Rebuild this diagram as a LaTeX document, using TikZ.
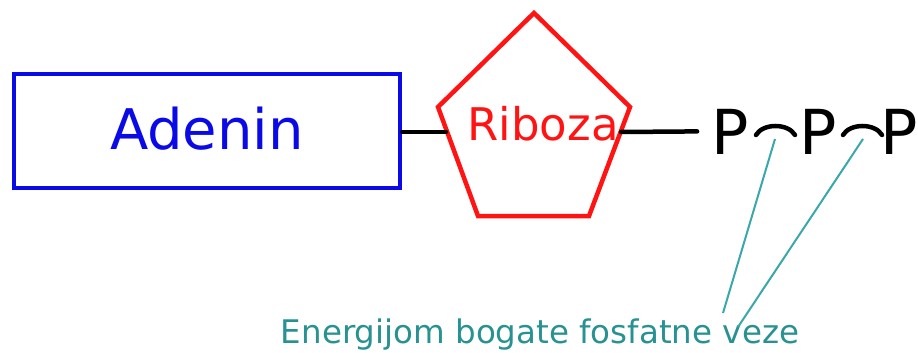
\documentclass[tikz,border=0pt]{standalone}
\usepackage{fontspec}
\setmainfont{DejaVu Sans}
\usepackage{tikz}
\usetikzlibrary{positioning, calc}

\definecolor{baseblue}{RGB}{10,10,230}
\definecolor{sugarred}{RGB}{255,20,20}
\definecolor{bondteal}{RGB}{58,168,168}
\definecolor{labelteal}{RGB}{40,145,145}

\begin{document}
\begin{tikzpicture}[
    x=1pt, y=-1pt,
    base/.style={rectangle, draw=baseblue, line width=4.5pt, text=baseblue, minimum width=386pt, minimum height=114pt, text height=42pt, text depth=6pt, font=\fontsize{56}{60}\selectfont},
    sugar/.style={draw=sugarred, line width=4.5pt, line join=miter},
    sugartext/.style={text=sugarred, inner sep=0pt, anchor=base, font=\fontsize{45}{50}\selectfont},
    phos/.style={inner sep=0pt, anchor=base, font=\fontsize{62}{66}\selectfont},
    bond/.style={line width=4.5pt, line cap=round},
    tie/.style={line width=4.5pt, line cap=round},
    pointer/.style={draw=bondteal, line width=2pt},
    note/.style={text=labelteal, inner sep=0pt, anchor=base, font=\fontsize{32.5}{36}\selectfont}
]
\useasboundingbox (0,0) rectangle (918,353);

% Adenin box
\node[base] (adenin) at (207,131) {Adenin};

% Riboza pentagon
\coordinate (ribTop) at (534,13);
\coordinate (ribRight) at (630,107);
\coordinate (ribBotR) at (589,216);
\coordinate (ribBotL) at (478,216);
\coordinate (ribLeft) at (438,107);
\draw[sugar] (ribTop) -- (ribRight) -- (ribBotR) -- (ribBotL) -- (ribLeft) -- cycle;
\node[sugartext] (riboza) at (543,140) {Riboza};
\coordinate (ribIn) at (446,132);
\coordinate (ribOut) at (621,132);

% Phosphates
\node[phos] (p1) at (730,154) {P};
\node[phos] (p2) at (818,154) {P};
\node[phos] (p3) at (899,154) {P};

% Bonds
\draw[bond] (adenin.east |- ribIn) -- (ribIn);
\draw[bond] (ribOut) -- ($(p1.west)+(-14,0)$ |- ribOut);
\coordinate (tie1) at (775,139);
\coordinate (tie2) at (863,139);
\draw[tie] (756,135) .. controls (763,123) and (788,123) .. (795,135);
\draw[tie] (843,135) .. controls (850,123) and (875,123) .. (882,135);

% Label
\node[note] (veze) at (540,343) {Energijom bogate fosfatne veze};
\coordinate (vezeA) at (723,313);
\coordinate (vezeB) at (738,327);
\draw[pointer] (tie1) -- (vezeA);
\draw[pointer] (tie2) -- (vezeB);

\end{tikzpicture}
\end{document}
